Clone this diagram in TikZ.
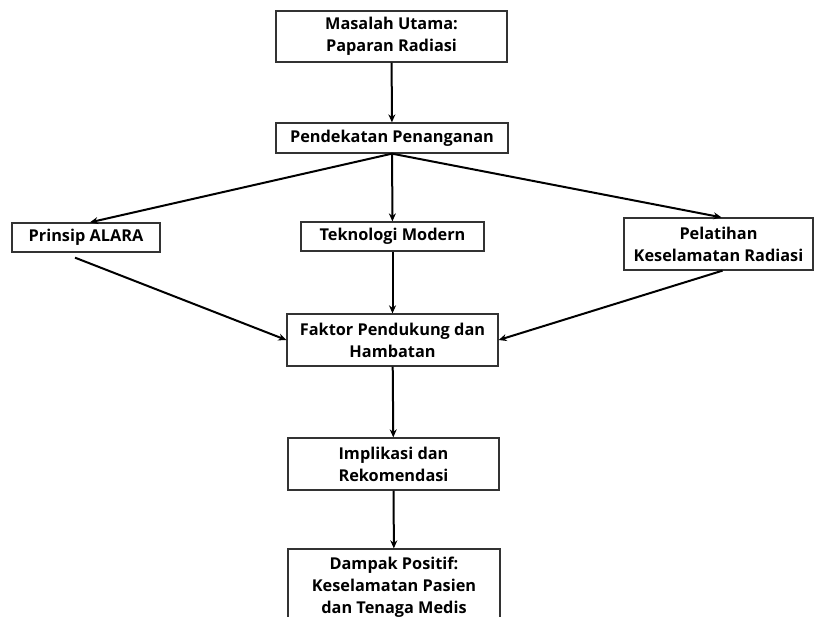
\documentclass[tikz,border=0pt]{standalone}
\usepackage{fontspec}
\setmainfont{Open Sans}
\usetikzlibrary{arrows.meta}

\begin{document}
\begin{tikzpicture}[x=1pt, y=-1pt, font=\bfseries\fontsize{16.3}{22}\selectfont,
  box/.style={draw=black!80, line width=1.3pt, align=center, inner sep=0pt},
  link/.style={line width=2pt, -{Stealth[length=8pt,width=7pt]}}]
\useasboundingbox (0,0) rectangle (814,616);
\node[box, minimum width=231pt, minimum height=51pt] (masalah) at (391.5,36.5) {Masalah Utama:\\Paparan Radiasi};
\node[box, minimum width=232pt, minimum height=30pt] (pendekatan) at (392,138) {Pendekatan Penanganan};
\node[box, minimum width=148pt, minimum height=29pt] (alara) at (86,237.5) {Prinsip ALARA};
\node[box, minimum width=183pt, minimum height=29pt] (teknologi) at (392.5,236.5) {Teknologi Modern};
\node[box, minimum width=189pt, minimum height=52pt] (pelatihan) at (718.5,244) {Pelatihan\\Keselamatan Radiasi};
\node[box, minimum width=211pt, minimum height=52pt] (faktor) at (392.5,340) {Faktor Pendukung dan\\Hambatan};
\node[box, minimum width=211pt, minimum height=52pt] (implikasi) at (393.5,464) {Implikasi dan\\Rekomendasi};
\node[box, minimum width=212pt, minimum height=76pt] (dampak) at (394,587) {Dampak Positif:\\Keselamatan Pasien\\dan Tenaga Medis};
% alur utama
\draw[link] (masalah) -- (pendekatan);
\draw[link] (pendekatan.south) -- ([xshift=4pt]alara.north);
\draw[link] (pendekatan) -- (teknologi);
\draw[link] (pendekatan.south) -- ([xshift=3pt]pelatihan.north);
\draw[link] ([xshift=-11pt,yshift=-5pt]alara.south) -- (faktor.west);
\draw[link] (teknologi) -- (faktor);
\draw[link] ([xshift=4pt]pelatihan.south) -- (faktor.east);
\draw[link] (faktor) -- (implikasi);
\draw[link] (implikasi) -- (dampak);
\end{tikzpicture}
\end{document}
